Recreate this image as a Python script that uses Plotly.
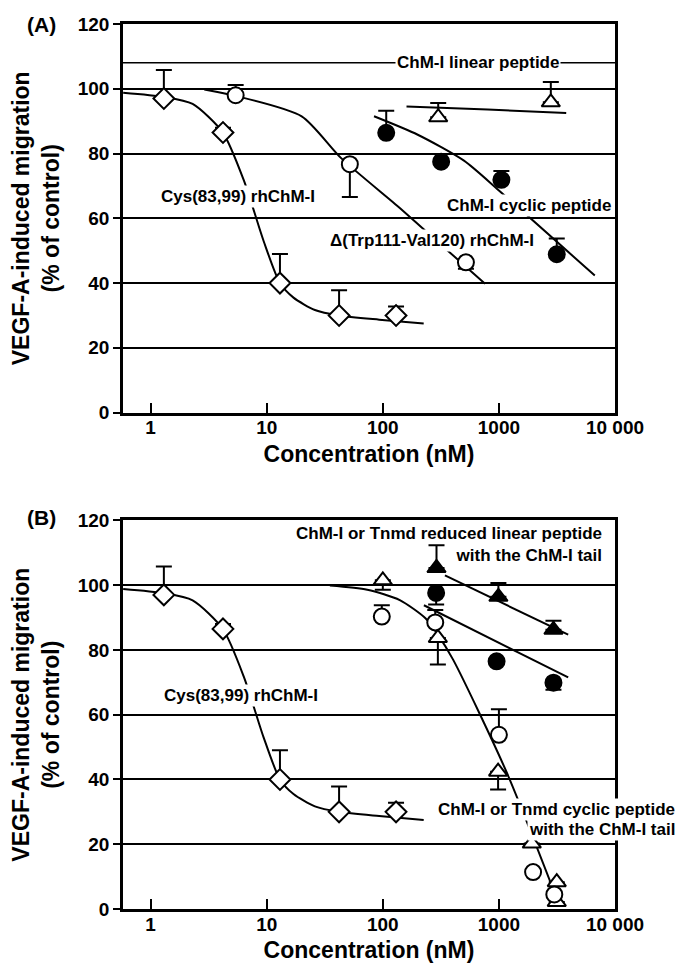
import plotly.graph_objects as go

# EIXOS
x_ticks = [1, 10, 100, 1000, 10000]
x_tick_text = ['1', '10', '100', '1000', '10 000']
y_ticks = [0, 20, 40, 60, 80, 100, 120]

# Cys(83,99) rhChM-I (mesma curva nos dois painéis)
cys_conc = [1.3, 4.2, 13, 42, 130]
cys_mig = [97, 86.5, 40, 30, 30]
cys_err_up = [8.8, 1.5, 9, 7.8, 2.8]
cys_fit_conc = [0.58, 1.3, 2.3, 4.2, 6.4, 9.4, 13, 17, 26, 42, 93, 225]
cys_fit_mig = [98.8, 97.5, 95.3, 86.4, 71.4, 53, 40, 35.5, 31.7, 30, 28.7, 27.5]

# PAINEL A
delta_conc = [5.4, 52, 520]
delta_mig = [98, 76.7, 46.4]
delta_err_up = [3.2, 0, 0]
delta_err_down = [0, 10.1, 2]
delta_fit_conc = [2.9, 5.4, 20, 44, 140, 233, 760]
delta_fit_mig = [99.8, 97.8, 91.5, 78.5, 63.2, 56.1, 39.8]

cyclic_conc = [107, 318, 1050, 3150]
cyclic_mig = [86.4, 77.5, 71.9, 48.9]
cyclic_err_up = [6.8, 0, 2.7, 4.9]
cyclic_fit_conc = [84, 200, 500, 1000, 6700]
cyclic_fit_mig = [91.5, 85.8, 77.8, 68.6, 42.3]

linear_conc = [300, 2800]
linear_mig = [91.2, 95.8]
linear_err_up = [4.4, 6.3]
linear_fit_conc = [160, 800, 3800]
linear_fit_mig = [94.5, 93.6, 92.5]
linear_label_line = 108

# PAINEL B
red_tri_conc = [290, 990, 2950]
red_tri_mig = [105.3, 96.4, 86.2]
red_tri_err_up = [7, 4.3, 2.8]
red_tri_fit_conc = [343, 3950]
red_tri_fit_mig = [103, 84.7]

red_circ_conc = [288, 955, 2950]
red_circ_mig = [97.6, 76.5, 69.9]
red_circ_err_down = [3.6, 0, 2.2]
red_circ_fit_conc = [226, 3950]
red_circ_fit_mig = [93.8, 71.5]

cyc_tri_conc = [100, 298, 984, 1920, 3150, 3150]
cyc_tri_mig = [101.5, 83.7, 42.4, 20.2, 8.3, 2.2]
cyc_tri_err_down = [2.9, 8.2, 5.5, 0, 0, 0]

cyc_circ_conc = [98, 283, 1000, 1970, 3000]
cyc_circ_mig = [90.3, 88.5, 53.8, 11.4, 4.5]
cyc_circ_err_up = [3.5, 3.8, 7.9, 0, 0]

cyc_fit_conc = [35, 73.5, 140, 233, 292, 403, 1160, 3250]
cyc_fit_mig = [99.9, 98.6, 95.4, 89.8, 85.2, 77, 42.4, 2]

FONTE = 'Liberation Sans, Arial, sans-serif'

fig = go.Figure()


def curva(x, y, painel):
    fig.add_trace(go.Scatter(
        x=x, y=y, mode='lines',
        line=dict(color='black', width=2, shape='spline', smoothing=0.7),
        xaxis='x' + painel, yaxis='y' + painel,
        showlegend=False, hoverinfo='skip'
    ))


def pontos(x, y, simbolo, cheio, painel, up=None, down=None, size=16):
    up = up if up is not None else [0] * len(x)
    down = down if down is not None else [0] * len(x)
    fig.add_trace(go.Scatter(
        x=x, y=y, mode='markers',
        marker=dict(symbol=simbolo, size=size,
                    color='black' if cheio else 'white',
                    line=dict(color='black', width=2)),
        error_y=dict(type='data', symmetric=False, array=up, arrayminus=down,
                     color='black', thickness=2, width=8),
        xaxis='x' + painel, yaxis='y' + painel,
        showlegend=False
    ))


# PAINEL A (eixos x/y)
fig.add_shape(type='line', xref='x domain', yref='y', x0=0, x1=1,
              y0=linear_label_line, y1=linear_label_line,
              line=dict(color='black', width=1.5), layer='below')
curva(cys_fit_conc, cys_fit_mig, '')
curva(delta_fit_conc, delta_fit_mig, '')
curva(cyclic_fit_conc, cyclic_fit_mig, '')
curva(linear_fit_conc, linear_fit_mig, '')
pontos(cys_conc, cys_mig, 'diamond', False, '', up=cys_err_up)
pontos(delta_conc, delta_mig, 'circle', False, '', up=delta_err_up, down=delta_err_down)
pontos(cyclic_conc, cyclic_mig, 'circle', True, '', up=cyclic_err_up)
pontos(linear_conc, linear_mig, 'triangle-up', False, '', up=linear_err_up)

# PAINEL B (eixos x2/y2)
curva(cys_fit_conc, cys_fit_mig, '2')
curva(red_tri_fit_conc, red_tri_fit_mig, '2')
curva(red_circ_fit_conc, red_circ_fit_mig, '2')
curva(cyc_fit_conc, cyc_fit_mig, '2')
pontos(cys_conc, cys_mig, 'diamond', False, '2', up=cys_err_up)
pontos(red_tri_conc, red_tri_mig, 'triangle-up', True, '2', up=red_tri_err_up)
pontos(red_circ_conc, red_circ_mig, 'circle', True, '2', down=red_circ_err_down)
pontos(cyc_tri_conc, cyc_tri_mig, 'triangle-up', False, '2', down=cyc_tri_err_down)
pontos(cyc_circ_conc, cyc_circ_mig, 'circle', False, '2', up=cyc_circ_err_up)

eixo_x = dict(
    type='log', range=[-0.238, 4.0],
    tickvals=x_ticks, ticktext=x_tick_text,
    ticks='inside', ticklen=10, tickwidth=2, tickcolor='black',
    ticklabelstandoff=-4,
    showline=True, linewidth=2.5, linecolor='black', mirror=True,
    showgrid=False, zeroline=False,
    tickfont=dict(family=FONTE, size=19, color='black', weight='bold'),
    title=dict(text='Concentration (nM)', standoff=9,
               font=dict(family=FONTE, size=23, color='black', weight='bold'))
)
eixo_y = dict(
    range=[0, 120], tickvals=y_ticks,
    ticks='outside', ticklen=7, tickwidth=1.5, tickcolor='black',
    showline=True, linewidth=2.5, linecolor='black', mirror=True,
    showgrid=True, gridcolor='black', gridwidth=1.5, zeroline=False,
    tickfont=dict(family=FONTE, size=19, color='black', weight='bold'),
    title=dict(text='VEGF-A-induced migration<br>(% of control)', standoff=18,
               font=dict(family=FONTE, size=23, color='black', weight='bold'))
)

# a página tem margem de 8 px: figura 8 px menor e margens deslocadas
fig.update_layout(
    width=678, height=970,
    margin=dict(l=101, r=71, t=6, b=69),
    paper_bgcolor='white', plot_bgcolor='white',
    showlegend=False,
    xaxis=dict(eixo_x, anchor='y'),
    yaxis=dict(eixo_y, anchor='x', domain=[0.5609, 1]),
    xaxis2=dict(eixo_x, anchor='y2'),
    yaxis2=dict(eixo_y, anchor='x2', domain=[0, 0.4391]),
)

rotulo = dict(showarrow=False, font=dict(family=FONTE, size=17, color='black', weight='bold'),
              bgcolor='white', borderpad=1)

anotacoes = [
    dict(text='ChM-I linear peptide', x=2.82, y=linear_label_line, xref='x', yref='y'),
    dict(text='Cys(83,99) rhChM-I', x=0.753, y=66.8, xref='x', yref='y'),
    dict(text='ChM-I cyclic peptide', x=3.256, y=64.1, xref='x', yref='y'),
    dict(text='Δ(Trp111-Val120) rhChM-I', x=2.424, y=53.1, xref='x', yref='y'),
    dict(text='ChM-I or Tnmd reduced linear peptide<br>with the ChM-I tail', x=3.908, y=112.7,
         xref='x2', yref='y2', xanchor='right', align='right', bgcolor='rgba(0,0,0,0)'),
    dict(text='Cys(83,99) rhChM-I', x=0.778, y=65.9, xref='x2', yref='y2'),
    dict(text='ChM-I or Tnmd cyclic peptide', x=1.127, y=30.8,
         xref='paper', yref='y2', xanchor='right'),
    dict(text='with the ChM-I tail', x=1.127, y=24.4,
         xref='paper', yref='y2', xanchor='right'),
]
for a in anotacoes:
    base = dict(rotulo)
    base.update(a)
    fig.add_annotation(**base)

for texto, y in [('(A)', 0.999), ('(B)', 0.4425)]:
    fig.add_annotation(text=texto, x=-0.2, y=y, xref='paper', yref='paper',
                       xanchor='left', yanchor='middle', showarrow=False,
                       font=dict(family=FONTE, size=21, color='black', weight='bold'))

fig.write_html('out.html')
